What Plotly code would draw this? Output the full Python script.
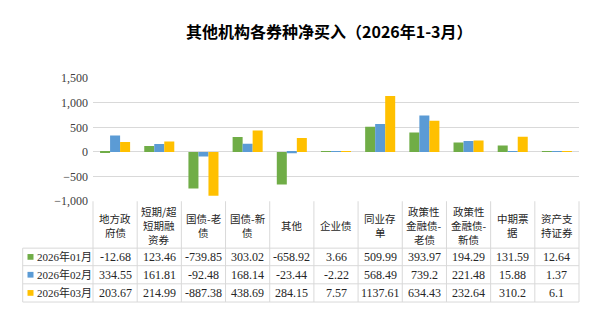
import plotly.graph_objects as go

# ---------------- data ----------------
categories = ["地方政府债", "短期/超短期融资券", "国债-老债", "国债-新债", "其他", "企业债",
              "同业存单", "政策性金融债-老债", "政策性金融债-新债", "中期票据", "资产支持证券"]
header_labels = ["地方政<br>府债", "短期/超<br>短期融<br>资券", "国债-老<br>债", "国债-新<br>债", "其他",
                 "企业债", "同业存<br>单", "政策性<br>金融债-<br>老债", "政策性<br>金融债-<br>新债",
                 "中期票<br>据", "资产支<br>持证券"]
series_names = ["2026年01月", "2026年02月", "2026年03月"]
jan = [-12.68, 123.46, -739.85, 303.02, -658.92, 3.66, 509.99, 393.97, 194.29, 131.59, 12.64]
feb = [334.55, 161.81, -92.48, 168.14, -23.44, -2.22, 568.49, 739.2, 221.48, 15.88, 1.37]
mar = [203.67, 214.99, -887.38, 438.69, 284.15, 7.57, 1137.61, 634.43, 232.64, 310.2, 6.1]
y_ticks = [-1000, -500, 0, 500, 1000, 1500]
title_text = "其他机构各券种净买入（2026年1-3月）"

# ---------------- style ----------------
W, H = 595, 325
colors = ["#70AD47", "#5B9BD5", "#FFC000"]
grid = "#D9D9D9"
txt = "#262626"
serif = "Liberation Serif, Noto Sans CJK SC, serif"
cjk = "Noto Sans CJK SC, sans-serif"

PL, PR, PT, PB = 93, 579, 74.3, 203      # plot area in px
TBL_LEFT = 22.7
row_lines = [252, 270.3, 289.3, 308.3]
HDR_LINE = 14.5


def px(x):
    return x / W


def py(y):
    return 1 - y / H


n = len(categories)
xs = list(range(n))
series = [jan, feb, mar]

fig = go.Figure()
for name, vals, c in zip(series_names, series, colors):
    fig.add_trace(go.Bar(x=xs, y=vals, name=name, marker=dict(color=c, line=dict(width=0)),
                         showlegend=False))

shapes = []
annotations = []
line = dict(color=grid, width=1)
colw = (PR - PL) / n

# horizontal table lines
for y in row_lines:
    shapes.append(dict(type="line", xref="paper", yref="paper", x0=px(TBL_LEFT), x1=px(PR),
                       y0=py(y), y1=py(y), line=line))
# vertical table lines
shapes.append(dict(type="line", xref="paper", yref="paper", x0=px(TBL_LEFT), x1=px(TBL_LEFT),
                   y0=py(row_lines[0]), y1=py(row_lines[-1]), line=line))
for k in range(n + 1):
    xk = PL + k * colw
    shapes.append(dict(type="line", xref="paper", yref="paper", x0=px(xk), x1=px(xk),
                       y0=py(PB), y1=py(row_lines[-1]), line=line))

# header text (one annotation per line)
hc = (PB + row_lines[0]) / 2 + 0.5
for i, lab in enumerate(header_labels):
    parts = lab.split("<br>")
    m = len(parts)
    for j, part in enumerate(parts):
        yc = hc + (j - (m - 1) / 2) * HDR_LINE
        annotations.append(dict(x=i, xref="x", y=py(yc), yref="paper",
                                text=part, showarrow=False, xanchor="center", yanchor="middle",
                                font=dict(family=cjk, size=10.5, color=txt)))

# data rows
for r, (name, vals, c) in enumerate(zip(series_names, series, colors)):
    yc = (row_lines[r] + row_lines[r + 1]) / 2
    for i, v in enumerate(vals):
        annotations.append(dict(x=i, xref="x", y=py(yc), yref="paper", text=str(v),
                                showarrow=False, xanchor="center", yanchor="middle",
                                font=dict(family=serif, size=12, color=txt)))
    shapes.append(dict(type="rect", xref="paper", yref="paper", x0=px(27.5), x1=px(33.5),
                       y0=py(yc - 3), y1=py(yc + 3), fillcolor=c, line=dict(width=0)))
    annotations.append(dict(x=px(34.5), xref="paper", y=py(yc), yref="paper", text=name,
                            showarrow=False, xanchor="left", yanchor="middle",
                            font=dict(family=serif, size=11, color=txt)))

# title
annotations.append(dict(x=px(329), xref="paper", y=py(25), yref="paper", text="<b>" + title_text + "</b>",
                        showarrow=False, xanchor="center", yanchor="middle",
                        font=dict(family=cjk, size=16, color="#000000")))

fig.update_layout(
    width=W, height=H,
    margin=dict(l=0, r=0, t=0, b=0),
    paper_bgcolor="white", plot_bgcolor="white",
    barmode="group", bargap=0.32, bargroupgap=0,
    xaxis=dict(domain=[px(PL), px(PR)], range=[-0.5, n - 0.5], showticklabels=False,
               showgrid=False, zeroline=False, showline=False, fixedrange=True),
    yaxis=dict(domain=[py(PB), py(PT)], range=[-1000, 1500], tickvals=y_ticks,
               tickformat=",", showgrid=True, gridcolor=grid, gridwidth=1,
               zeroline=True, zerolinecolor=grid, zerolinewidth=1, showline=False,
               tickfont=dict(family=serif, size=12, color="#404040"), ticks="",
               ticklabelstandoff=4),
    shapes=shapes, annotations=annotations,
)

fig.write_html("out.html")
